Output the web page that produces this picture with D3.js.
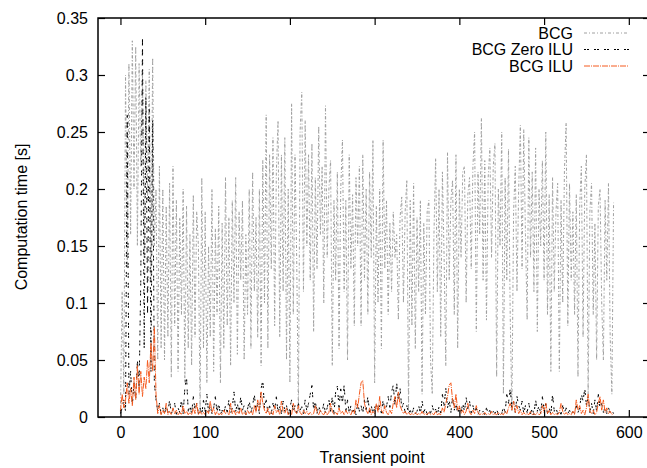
<!DOCTYPE html>
<html>
<head>
<meta charset="utf-8">
<script src="https://cdn.jsdelivr.net/npm/d3@7"></script>
<style>
  body { margin: 0; background: #fff; }
  svg text { font-family: "Liberation Sans", Arial, Helvetica, sans-serif; font-size: 16px; fill: #000; }
</style>
</head>
<body>
<svg id="chart"></svg>
<script>
// one sample every 2 transient points, values in milliseconds
const xStep = 2;

const bcgMs = [
  5,110,20,300,130,310,160,330,200,325,
  150,310,220,300,140,295,190,305,120,315,
  150,200,50,220,60,200,50,185,70,205,
  35,220,80,190,40,175,90,200,30,185,
  60,160,45,195,70,180,150,5,210,60,
  180,30,150,70,200,40,165,90,185,30,
  170,60,210,80,175,45,190,100,210,55,
  180,120,190,50,160,90,200,60,215,110,
  175,70,200,45,225,100,265,60,230,130,
  245,80,215,260,70,230,110,245,50,200,
  30,275,90,230,140,5,250,285,110,260,
  150,230,120,240,75,210,130,255,160,220,
  100,273,140,200,225,45,190,120,215,60,
  200,243,110,190,50,230,130,195,80,210,
  150,220,80,230,120,200,90,215,140,243,
  30,185,100,200,60,243,130,190,90,170,
  110,180,140,160,85,175,193,100,180,208,
  5,190,80,205,60,175,110,190,20,170,
  90,180,190,50,20,160,227,110,200,70,
  215,140,45,232,120,190,208,90,230,60,
  200,140,215,220,100,195,210,130,220,250,
  75,215,160,262,120,225,85,210,236,140,
  220,240,35,200,150,250,20,210,120,235,
  90,5,180,220,110,200,256,130,252,160,
  85,245,140,215,110,236,75,200,150,225,
  120,250,90,195,40,210,110,180,205,40,
  190,100,215,258,80,205,120,180,90,195,
  35,185,220,70,200,230,20,180,205,90,
  170,50,185,200,100,50,190,120,205,70,
  20,188
];

const zeroIluMs = [
  3,8,15,5,265,20,40,10,30,15,
  50,25,120,333,60,280,90,270,40,260,
  30,15,5,12,3,8,2,10,4,15,
  3,6,12,2,8,4,15,3,25,35,
  5,10,3,18,6,12,3,8,2,15,
  5,20,4,10,3,8,18,4,12,2,
  6,3,10,4,15,3,8,22,5,12,
  3,18,6,10,2,7,14,4,10,20,
  5,12,3,25,32,8,15,4,10,3,
  12,6,18,4,9,3,14,5,10,2,
  8,15,4,10,3,12,6,9,3,15,
  5,12,20,28,6,14,3,10,5,4,
  12,3,8,15,5,18,3,22,27,8,
  25,12,28,5,15,3,10,4,8,2,
  12,5,10,3,15,6,18,4,10,3,
  8,12,4,10,3,15,6,9,18,8,
  22,28,10,30,14,25,8,12,4,10,
  3,6,2,8,3,5,10,3,14,4,
  8,2,6,3,10,4,7,2,9,3,
  20,10,25,8,15,4,18,6,12,3,
  8,4,12,5,17,7,14,3,10,4,
  8,2,6,3,5,2,8,3,6,2,
  5,3,7,2,5,3,9,4,20,12,
  25,8,14,4,18,10,6,14,3,10,
  4,12,3,8,2,15,5,10,3,18,
  6,12,3,8,2,20,5,8,3,6,
  2,10,4,8,3,6,2,5,3,10,
  4,8,20,14,25,10,18,4,12,3,
  15,5,20,8,12,4,9,3,8,4,
  6,3
];

const iluMs = [
  5,20,8,15,30,12,25,10,35,15,
  45,20,40,18,35,25,50,30,65,40,
  79,20,3,10,2,6,3,12,2,5,
  2,8,3,6,2,4,2,10,3,5,
  2,4,2,8,3,12,2,5,2,4,
  2,6,3,14,4,8,2,5,2,3,
  2,6,3,4,2,12,3,6,2,5,
  3,8,2,4,2,6,3,5,2,10,
  4,15,6,22,12,6,3,8,2,5,
  2,10,4,6,2,14,5,3,8,2,
  4,2,12,5,3,10,4,2,6,3,
  5,2,4,2,3,10,4,2,6,3,
  2,5,2,4,12,5,2,4,2,8,
  3,5,2,6,3,4,2,6,3,15,
  8,20,30,32,12,6,3,8,2,5,
  3,12,4,18,6,3,10,4,2,6,
  3,12,18,8,22,10,6,3,5,2,
  4,2,3,2,4,2,3,2,5,2,
  3,2,4,2,3,2,5,2,3,2,
  8,4,12,18,28,30,15,8,20,6,
  10,3,6,2,5,12,4,2,6,3,
  10,4,2,3,2,4,2,3,2,5,
  2,3,2,4,2,3,2,5,3,8,
  12,6,14,4,10,3,6,2,4,2,
  3,2,5,2,3,2,4,2,3,10,
  4,12,3,6,2,4,2,3,2,4,
  12,5,2,4,2,3,2,5,2,15,
  6,10,3,6,2,8,20,5,3,6,
  2,4,12,18,6,15,4,8,3,5,
  2,3
];

const seriesNames = ["BCG", "BCG Zero ILU", "BCG ILU"];
const xTicks = [0, 100, 200, 300, 400, 500, 600];
const yTicks = [0, 0.05, 0.1, 0.15, 0.2, 0.25, 0.3, 0.35];

class TimingChart {
    margin = { top: 18, right: -3, bottom: 51, left: 98 }

    constructor(svg, width = 647, height = 468) {
        this.svg = svg;
        this.width = width;
        this.height = height;
    }

    initialize() {
        this.svg = d3.select(this.svg)
            .attr("width", this.width)
            .attr("height", this.height);
        this.innerW = this.width - this.margin.left - this.margin.right;
        this.innerH = this.height - this.margin.top - this.margin.bottom;

        this.xScale = d3.scaleLinear().domain([-26.5, 625])
            .range([this.margin.left, this.margin.left + this.innerW]);
        this.yScale = d3.scaleLinear().domain([0, 0.35])
            .range([this.margin.top + this.innerH, this.margin.top]);

        this.lines = this.svg.append("g");
        this.axes = this.svg.append("g");
        this.legend = this.svg.append("g");
    }

    update(series) {
        const x = this.xScale, y = this.yScale;
        const line = d3.line()
            .x((d, i) => x(i * xStep))
            .y(d => y(d / 1000));

        this.lines.selectAll("path")
            .data(series)
            .join("path")
            .attr("d", d => line(d.values))
            .attr("fill", "none")
            .attr("stroke", d => d.color)
            .attr("stroke-width", 1)
            .attr("stroke-dasharray", d => d.dash);

        const bottom = this.margin.top + this.innerH;
        const right = this.margin.left + this.innerW;

        this.axes.append("g")
            .attr("transform", `translate(0,${bottom})`)
            .call(d3.axisBottom(x).tickValues(xTicks).tickSizeInner(-7).tickSizeOuter(0).tickPadding(10));
        this.axes.append("g")
            .attr("transform", `translate(0,${this.margin.top})`)
            .call(d3.axisTop(x).tickValues(xTicks).tickSizeInner(-7).tickSizeOuter(0).tickFormat(""));
        this.axes.append("g")
            .attr("transform", `translate(${this.margin.left},0)`)
            .call(d3.axisLeft(y).tickValues(yTicks).tickSizeInner(-7).tickSizeOuter(0).tickPadding(10).tickFormat(d => String(d)));
        this.axes.append("g")
            .attr("transform", `translate(${right},0)`)
            .call(d3.axisRight(y).tickValues(yTicks).tickSizeInner(-7).tickSizeOuter(0).tickFormat(""));

        this.axes.selectAll(".domain").remove();
        this.axes.selectAll(".tick line").attr("stroke", "#000").attr("stroke-width", 1.2);
        this.axes.selectAll(".tick text")
            .attr("font-family", null).attr("font-size", null);

        this.axes.append("rect")
            .attr("x", this.margin.left)
            .attr("y", this.margin.top)
            .attr("width", this.innerW)
            .attr("height", this.innerH)
            .attr("fill", "none")
            .attr("stroke", "#000")
            .attr("stroke-width", 1.5);

        this.axes.append("text")
            .attr("x", 372)
            .attr("y", 463)
            .attr("text-anchor", "middle")
            .text("Transient point");
        this.axes.append("text")
            .attr("transform", "translate(27,217) rotate(-90)")
            .attr("text-anchor", "middle")
            .text("Computation time [s]");

        const rows = this.legend.selectAll("g")
            .data(series)
            .join("g")
            .attr("transform", (d, i) => `translate(0,${33 + i * 16.5})`);
        rows.append("text")
            .attr("x", 573)
            .attr("dy", "0.35em")
            .attr("text-anchor", "end")
            .text(d => d.name);
        rows.append("line")
            .attr("x1", 584).attr("x2", 629)
            .attr("stroke", d => d.color)
            .attr("stroke-width", 1)
            .attr("stroke-dasharray", d => d.dash);
    }
}

const series = [
    { name: seriesNames[0], values: bcgMs, color: "#a0a0a0", dash: "3,2,1,2" },
    { name: seriesNames[1], values: zeroIluMs, color: "#000000", dash: "2,1,2,5" },
    { name: seriesNames[2], values: iluMs, color: "#f55a1e", dash: "6,1,1,1" }
];

const chart = new TimingChart(document.getElementById("chart"));
chart.initialize();
chart.update(series);
</script>
</body>
</html>
